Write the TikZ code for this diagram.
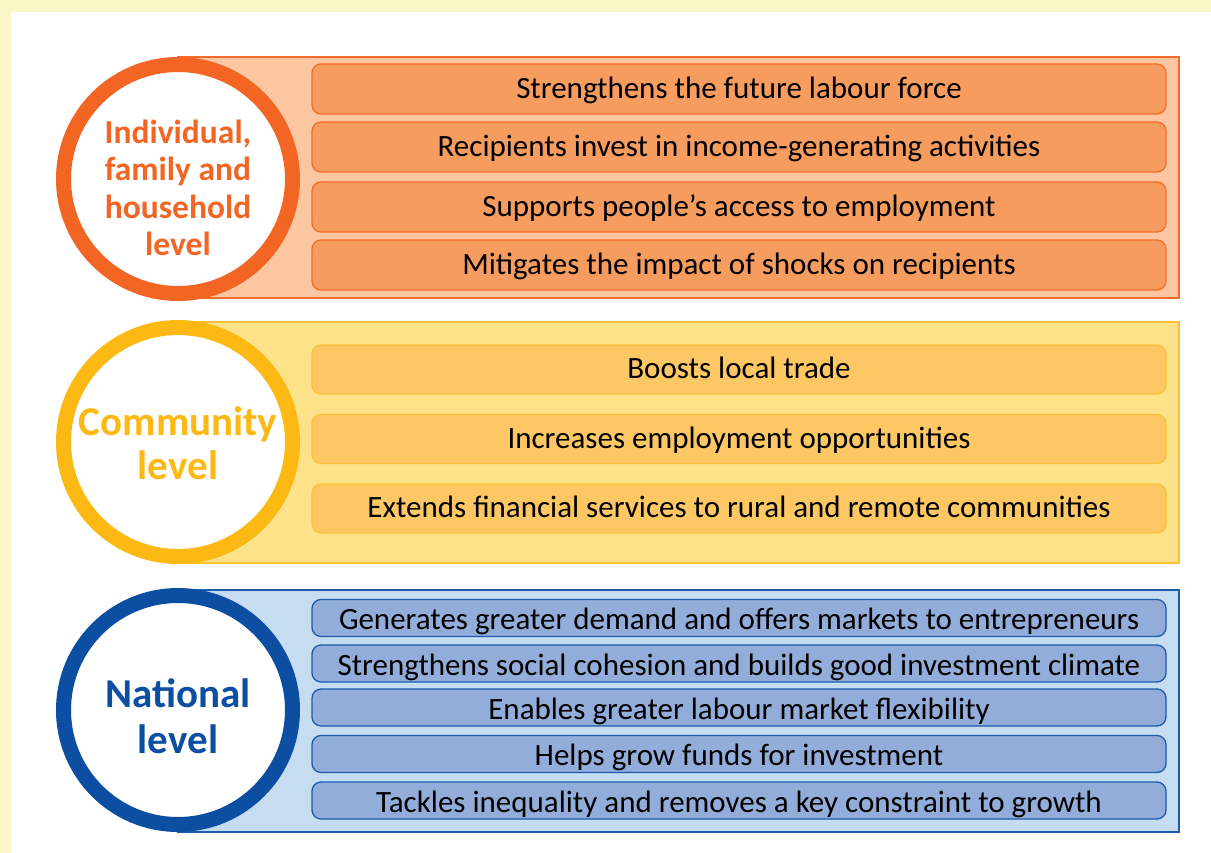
\documentclass[tikz,border=0pt]{standalone}
\usepackage{fontspec}
\setmainfont{Carlito}
\definecolor{bgyel}{HTML}{FAF7C6}
\definecolor{oring}{HTML}{F26522}
\definecolor{opanel}{HTML}{FBC6A0}
\definecolor{obox}{HTML}{F79C5F}
\definecolor{oline}{HTML}{F36B2A}
\definecolor{yring}{HTML}{FDB913}
\definecolor{ypanel}{HTML}{FEE28A}
\definecolor{ybox}{HTML}{FDC764}
\definecolor{yline}{HTML}{FCC237}
\definecolor{bring}{HTML}{0B4EA2}
\definecolor{bpanel}{HTML}{C6DCF1}
\definecolor{bbox}{HTML}{93ADDA}
\definecolor{bline}{HTML}{1C5BAC}
\begin{document}
\begin{tikzpicture}[x=1pt,y=-1pt,
  item/.style={rounded corners=9pt, minimum width=854pt, inner sep=0pt, line width=1.3pt,
    font=\fontsize{31}{36}\selectfont, text=black, text height=24.5pt, text depth=6pt},
  oitem/.style={item, draw=oline, fill=obox, minimum height=50pt},
  yitem/.style={item, draw=yline, fill=ybox, minimum height=49pt},
  bitem/.style={item, draw=bline, fill=bbox, minimum height=37pt, text height=29pt},
  panel/.style={line width=2pt},
  ring/.style={circle, fill=white, line width=15pt, minimum size=229pt, inner sep=0pt},
  ringtext/.style={align=center, inner sep=0pt}
]
% background
\fill[bgyel] (0,0) rectangle (1211,853);
\fill[white] (11,12) rectangle (1211,853);
\useasboundingbox (0,0) rectangle (1211,853);

% ---------- Individual level ----------
\filldraw[panel, draw=oline, fill=opanel] (178,57) rectangle (1179,298);
\node[ring, draw=oring] (ind) at (178,179) {};
\node[ringtext, text=oring, font=\bfseries\fontsize{33.5}{37.5}\selectfont] (indt) at ([yshift=-9pt]ind.center) {Individual,\\family and\\household\\level};
\node[oitem] (o1) at (739,89) {Strengthens the future labour force};
\node[oitem] (o2) at (739,147) {Recipients invest in income-generating activities};
\node[oitem] (o3) at (739,207) {Supports people’s access to employment};
\node[oitem] (o4) at (739,265) {Mitigates the impact of shocks on recipients};

% ---------- Community level ----------
\filldraw[panel, draw=yline, fill=ypanel] (178,322) rectangle (1179,563);
\node[ring, draw=yring] (com) at (178,442) {};
\node[ringtext, text=yring, font=\bfseries\fontsize{41}{44}\selectfont] (comt) at ([yshift=-1pt]com.center) {Community\\level};
\node[yitem] (y1) at (739,369.5) {Boosts local trade};
\node[yitem] (y2) at (739,439) {Increases employment opportunities};
\node[yitem] (y3) at (739,508.5) {Extends financial services to rural and remote communities};

% ---------- National level ----------
\filldraw[panel, draw=bline, fill=bpanel] (178,590) rectangle (1179,832);
\node[ring, draw=bring] (nat) at (178,710) {};
\node[ringtext, text=bring, font=\bfseries\fontsize{41}{46}\selectfont] (natt) at ([yshift=-6pt]nat.center) {National\\level};
\node[bitem] (b1) at (739,618) {Generates greater demand and offers markets to entrepreneurs};
\node[bitem] (b2) at (739,663.5) {Strengthens social cohesion and builds good investment climate};
\node[bitem] (b3) at (739,707.5) {Enables greater labour market flexibility};
\node[bitem] (b4) at (739,754) {Helps grow funds for investment};
\node[bitem] (b5) at (739,800.5) {Tackles inequality and removes a key constraint to growth};
\end{tikzpicture}
\end{document}
